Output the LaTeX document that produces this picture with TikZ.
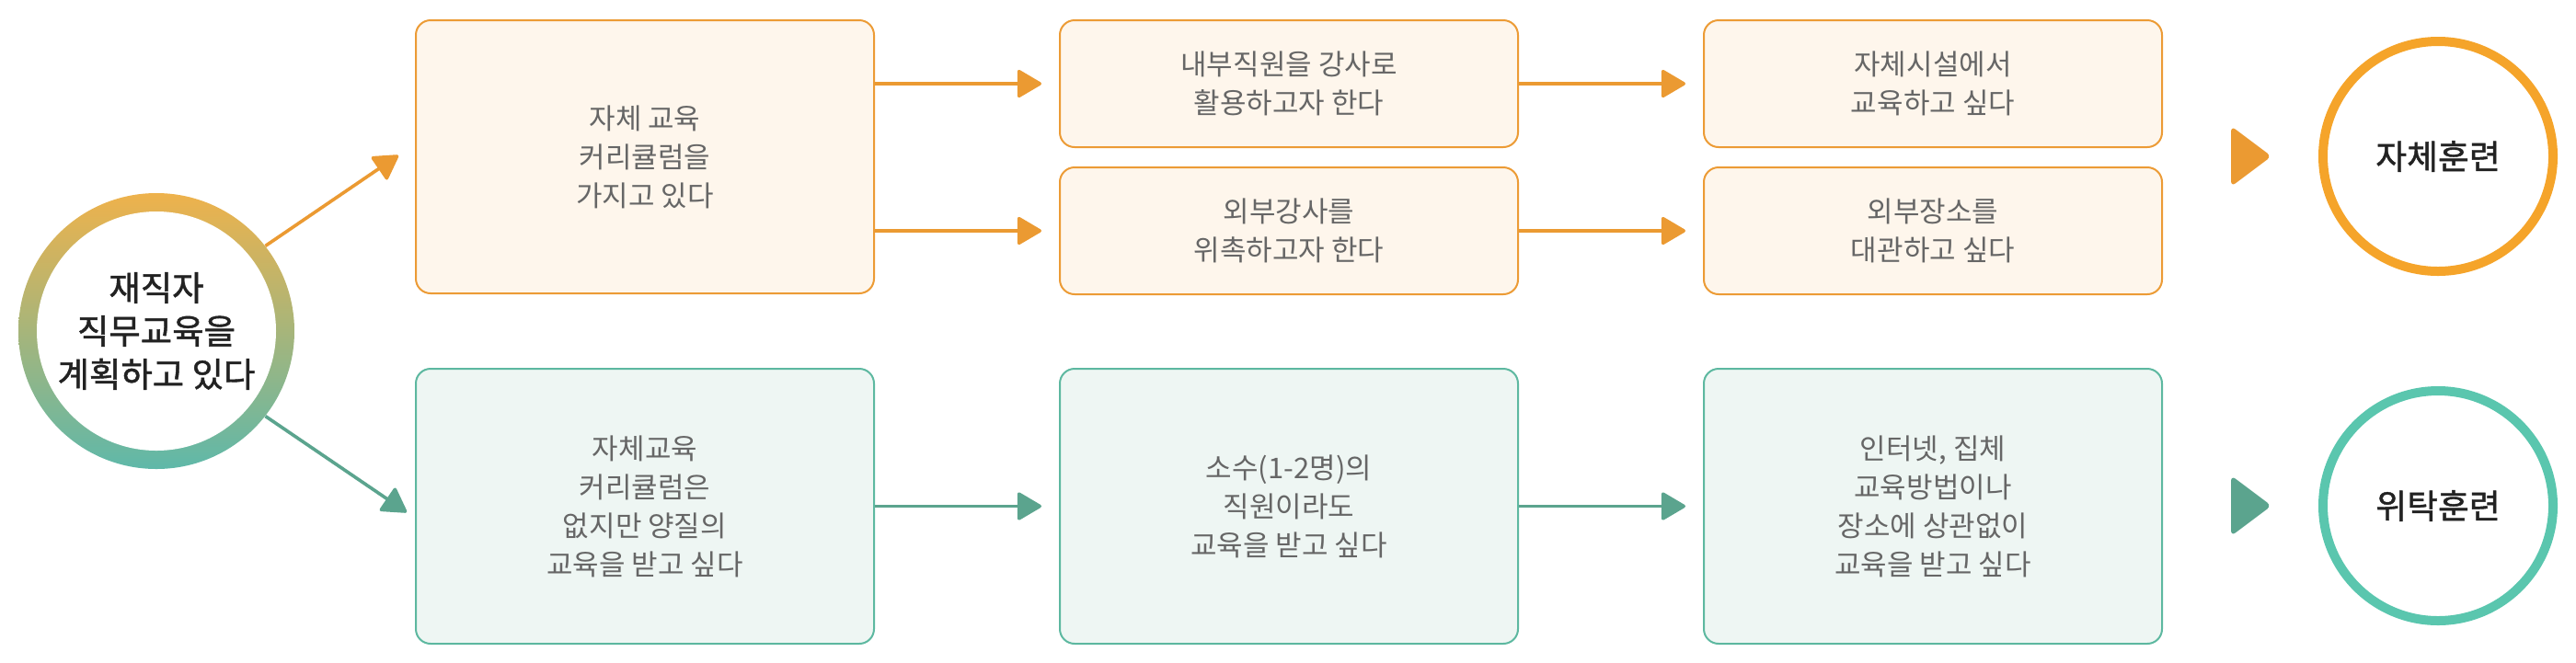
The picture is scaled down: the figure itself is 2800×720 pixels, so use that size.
\documentclass[tikz,border=0pt]{standalone}
\usepackage{fontspec}
\setmainfont{Noto Sans CJK KR}
\newfontfamily\krmed[FakeBold=1.2]{Noto Sans CJK KR}
\usetikzlibrary{arrows.meta}
\definecolor{oline}{HTML}{EC9B35}
\definecolor{ofill}{HTML}{FEF6EC}
\definecolor{oarrow}{HTML}{EB9A32}
\definecolor{gline}{HTML}{5DB8A0}
\definecolor{gfill}{HTML}{EEF6F3}
\definecolor{garrow}{HTML}{5BA48E}
\definecolor{tgray}{HTML}{666666}
\definecolor{tdark}{HTML}{222222}
\definecolor{ring1}{HTML}{F5A42A}
\definecolor{ring2}{HTML}{5AC6AE}
\definecolor{ctop}{HTML}{EEB24C}
\definecolor{cbot}{HTML}{5FB8A9}
\begin{document}
\begin{tikzpicture}[x=0.5pt,y=-0.5pt,
  boxbase/.style={line width=1pt, rounded corners=8pt, minimum width=249pt,
    anchor=north west, align=center, text=tgray, inner sep=0pt,
    font=\fontsize{15.5pt}{21pt}\selectfont},
  obox/.style={boxbase, draw=oline, fill=ofill},
  gbox/.style={boxbase, draw=gline, fill=gfill},
  arrbase/.style={line width=1.8pt, -{Triangle[length=14pt,width=16pt,round]}},
  oarr/.style={arrbase, draw=oarrow, fill=oarrow},
  garr/.style={arrbase, draw=garrow, fill=garrow},
  endcircle/.style={circle, minimum size=125pt, inner sep=0pt, line width=5pt,
    text=tdark, font=\krmed\fontsize{18.4pt}{22pt}\selectfont},
  tri/.style={rounded corners=3pt}
]
\useasboundingbox (0,0) rectangle (2800,720);

% left circle with gradient ring
\shade[top color=ctop, bottom color=cbot] (170,360) circle[radius=75pt];
\fill[white] (170,360) circle[radius=65pt];
\node[circle, minimum size=150pt, inner sep=0pt, align=center, text=tdark,
  font=\krmed\fontsize{18.7pt}{23.5pt}\selectfont] (L) at (170,360)
  {재직자\\직무교육을\\계획하고 있다};

% orange row
\node[obox, minimum height=148.5pt] (o1) at (451,21) {자체 교육\\커리큘럼을\\가지고 있다};
\node[obox, minimum height=69pt] (o2a) at (1151,21) {내부직원을 강사로\\활용하고자 한다};
\node[obox, minimum height=69pt] (o2b) at (1151,181) {외부강사를\\위촉하고자 한다};
\node[obox, minimum height=69pt] (o3a) at (1851,21) {자체시설에서\\교육하고 싶다};
\node[obox, minimum height=69pt] (o3b) at (1851,181) {외부장소를\\대관하고 싶다};

% green row
\node[gbox, minimum height=149.5pt] (g1) at (451,400) {자체교육\\커리큘럼은\\없지만 양질의\\교육을 받고 싶다};
\node[gbox, minimum height=149.5pt] (g2) at (1151,400) {소수(1-2명)의\\직원이라도\\교육을 받고 싶다};
\node[gbox, minimum height=149.5pt] (g3) at (1851,400) {인터넷, 집체\\교육방법이나\\장소에 상관없이\\교육을 받고 싶다};

% end circles
\node[endcircle, draw=ring1] (R1) at (2650,170) {자체훈련};
\node[endcircle, draw=ring2] (R2) at (2650,550) {위탁훈련};

% triangles
\fill[oarrow, tri] (2425,137) -- (2469,170) -- (2425,203) -- cycle;
\fill[garrow, tri] (2425,517) -- (2469,550) -- (2425,583) -- cycle;

% arrows from left circle
\coordinate (t1) at (433,169);
\coordinate (t2) at (442,557);
\draw[oarr] (L.38) -- (t1);
\draw[garr] (L.-38) -- (t2);

% row arrows
\draw[oarr, shorten >=9.5pt] (o1.east |- o2a.west) -- (o2a.west);
\draw[oarr, shorten >=9.5pt] (o1.east |- o2b.west) -- (o2b.west);
\draw[oarr, shorten >=9.5pt] (o2a.east) -- (o3a.west);
\draw[oarr, shorten >=9.5pt] (o2b.east) -- (o3b.west);
\draw[garr, shorten >=9.5pt] (g1.east) -- (g2.west);
\draw[garr, shorten >=9.5pt] (g2.east) -- (g3.west);
\end{tikzpicture}
\end{document}
